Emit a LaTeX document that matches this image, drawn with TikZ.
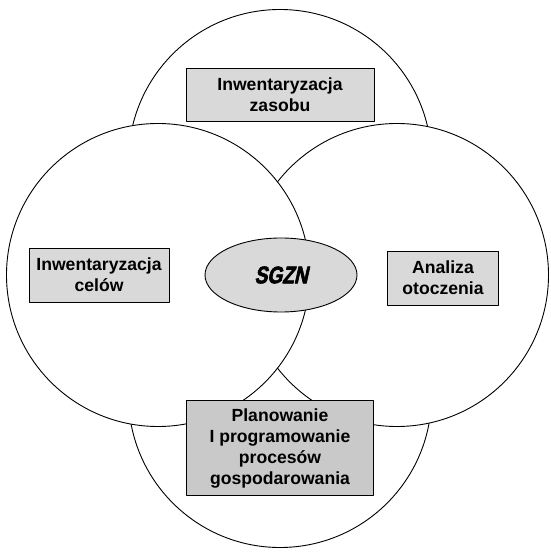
\documentclass[tikz,border=0pt]{standalone}
\usepackage{fontspec}
\usetikzlibrary{shapes.geometric}
\setmainfont{Liberation Sans}
\newfontfamily\sgznfont[UprightFont={* Bold}, FakeStretch=0.8, FakeSlant=0.22, FakeBold=2.5]{Liberation Sans}
\begin{document}
\begin{tikzpicture}[x=1pt, y=1pt, line join=round, line cap=round,
	font=\fontsize{17.6}{21}\selectfont\bfseries,
	ring/.style={draw, fill=white, line width=.9pt},
	box/.style={draw, line width=.9pt, fill=gray!30, align=center, inner sep=0pt},
	core/.style={draw, ellipse, line width=.9pt, fill=gray!30, inner sep=0pt}]
	\useasboundingbox (0,0) rectangle (550,554);
	\coordinate (top) at (280,393);
	\coordinate (bot) at (280,158);
	\coordinate (rgt) at (397,279);
	\coordinate (lft) at (158,279);
	\foreach \c in {top,bot,rgt,lft} \draw[ring] (\c) circle (151.5);
	\node[box, minimum width=188, minimum height=53] (zasob) at (280,459) {Inwentaryzacja\\zasobu};
	\node[box, minimum width=140, minimum height=54] (cele) at (99,279) {Inwentaryzacja\\celów};
	\node[box, minimum width=111, minimum height=54] (otocz) at (443,276) {Analiza\\otoczenia};
	\node[box, fill=gray!42, minimum width=187, minimum height=95] (plan) at (280,106) {Planowanie\\I programowanie\\procesów\\gospodarowania};
	\node[core, minimum width=152, minimum height=74, font=\fontsize{24}{28}\sgznfont] (sgzn) at (281,279) {SGZN};
\end{tikzpicture}
\end{document}
